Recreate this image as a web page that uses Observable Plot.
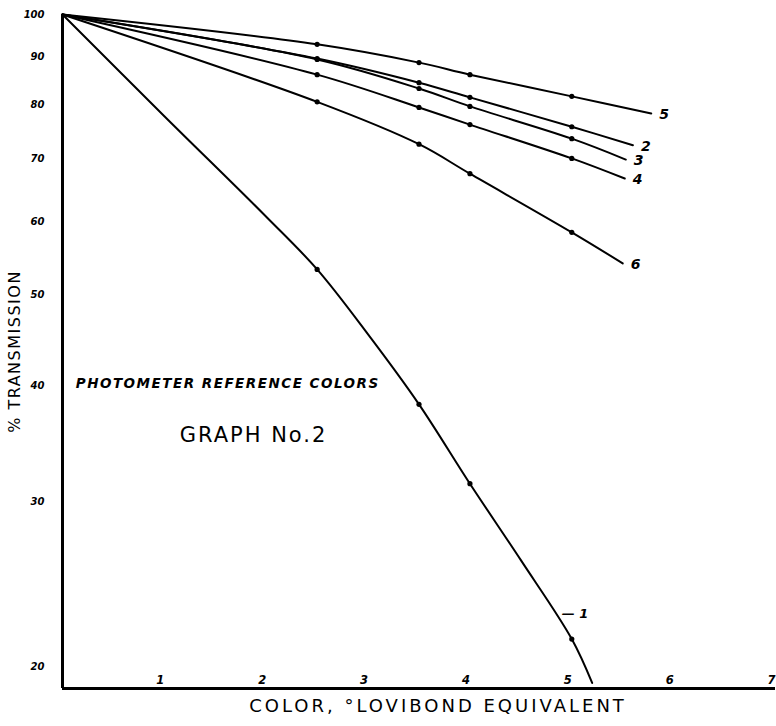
<!DOCTYPE html>
<html><head><meta charset="utf-8">
<script src="https://cdn.jsdelivr.net/npm/d3@7"></script>
<script src="https://cdn.jsdelivr.net/npm/@observablehq/plot@0.6"></script>
<style>
body{margin:0;background:#fff}
#chart svg{display:block}
</style>
</head><body><div id="chart"></div>
<script>
// Curve values (° Lovibond equivalent vs % transmission)
const curve1X = [0, 1, 2, 2.5, 3, 3.5, 4, 4.5, 5, 5.2];
const curve1Y = [100, 77.8, 60.7, 53.3, 45.4, 38.2, 31.4, 26.0, 21.4, 19.2];
const curve2X = [0, 2.5, 3.5, 4, 5, 5.6];
const curve2Y = [100, 89.7, 84.5, 81.5, 75.8, 72.4];
const curve3X = [0, 2.5, 3.5, 4, 5, 5.53];
const curve3Y = [100, 89.5, 83.3, 79.7, 73.6, 69.9];
const curve4X = [0, 2.5, 3.5, 4, 5, 5.52];
const curve4Y = [100, 86.2, 79.5, 76.2, 70.1, 66.7];
const curve5X = [0, 2.5, 3.5, 4, 5, 5.78];
const curve5Y = [100, 92.9, 88.8, 86.2, 81.7, 78.3];
const curve6X = [0, 2.5, 3.5, 4, 5, 5.5];
const curve6Y = [100, 80.6, 72.6, 67.5, 58.4, 54.1];
const seriesNames = ["1", "2", "3", "4", "5", "6"];
const markedX = [2.5, 3.5, 4, 5];   // measured points drawn as dots
const xTicks = [1, 2, 3, 4, 5, 6, 7];
const yTicks = [100, 90, 80, 70, 60, 50, 40, 30, 20];
const xDomain = [0, 7];
const yDomain = [18.94, 100];

const xs = [curve1X, curve2X, curve3X, curve4X, curve5X, curve6X];
const ys = [curve1Y, curve2Y, curve3Y, curve4Y, curve5Y, curve6Y];
const rows = [];
seriesNames.forEach((s, i) => xs[i].forEach((x, j) => rows.push({series: s, x, y: ys[i][j]})));
const marks = rows.filter(d => markedX.includes(d.x));
const ends = seriesNames.slice(1).map((s, i) => {
  const k = xs[i + 1].length - 1;
  return {series: s, x: xs[i + 1][k], y: ys[i + 1][k]};
});
const label1 = [{x: 5.0, y: 22.8, text: "\u2014 1"}];
const titleText = "PHOTOMETER REFERENCE COLORS";
const graphText = "GRAPH No.2";
const yLabel = "% TRANSMISSION";
const xLabel = "COLOR, \u00B0LOVIBOND EQUIVALENT";
const noteTitle = [{x: 0.13, y: 40.2, text: titleText}];
const noteGraph = [{x: 1.15, y: 35.4, text: graphText}];

const font = "'DejaVu Sans', sans-serif";
const chart = Plot.plot({
  width: 776,
  height: 726,
  marginLeft: 62,
  marginRight: 1,
  marginTop: 14,
  marginBottom: 38,
  style: {fontFamily: font, color: "#000", background: "#fff"},
  x: {domain: xDomain},
  y: {type: "log", domain: yDomain},
  marks: [
    Plot.axisY({ticks: yTicks, tickSize: 0, tickPadding: 18, tickFormat: d => String(d),
      fontSize: 10, fontWeight: "bold", fontStyle: "italic", label: null}),
    Plot.axisX({ticks: xTicks, tickSize: 0, tickPadding: 0, dy: -13, dx: -4, tickFormat: d => String(d),
      fontSize: 11.5, fontWeight: "bold", fontStyle: "italic", label: null}),
    Plot.ruleX([0], {stroke: "#000", strokeWidth: 3}),
    Plot.ruleY([yDomain[0]], {stroke: "#000", strokeWidth: 3}),
    Plot.line(rows, {x: "x", y: "y", z: "series", curve: "catmull-rom", stroke: "#000", strokeWidth: 2}),
    Plot.dot(marks, {x: "x", y: "y", r: 2.6, fill: "#000"}),
    Plot.text(ends, {x: "x", y: "y", text: "series", textAnchor: "start", dx: 8, dy: 1,
      fontSize: 14, fontWeight: "bold", fontStyle: "italic"}),
    Plot.text(label1, {x: "x", y: "y", text: "text", textAnchor: "start", dx: -10,
      fontSize: 13, fontWeight: "bold", fontStyle: "italic"}),
    Plot.text(noteTitle, {x: "x", y: "y", text: "text", textAnchor: "start", fontSize: 13.5,
      fontStyle: "italic", fontWeight: "bold"}),
    Plot.text(noteGraph, {x: "x", y: "y", text: "text", textAnchor: "start", fontSize: 21}),
    Plot.text([yLabel], {frameAnchor: "left", textAnchor: "middle", dx: -48, rotate: -90,
      fontSize: 16}),
    Plot.text([xLabel], {frameAnchor: "bottom", dy: 23, dx: 19, fontSize: 18})
  ]
});
// letter spacing for the hand-lettered captions
const spacing = {[titleText]: 1.5, [graphText]: 2, [yLabel]: 1.5, [xLabel]: 3};
chart.querySelectorAll("text").forEach(t => {
  const s = spacing[t.textContent];
  if (s) t.setAttribute("letter-spacing", s);
});
document.getElementById("chart").appendChild(chart);
</script>
</body></html>
